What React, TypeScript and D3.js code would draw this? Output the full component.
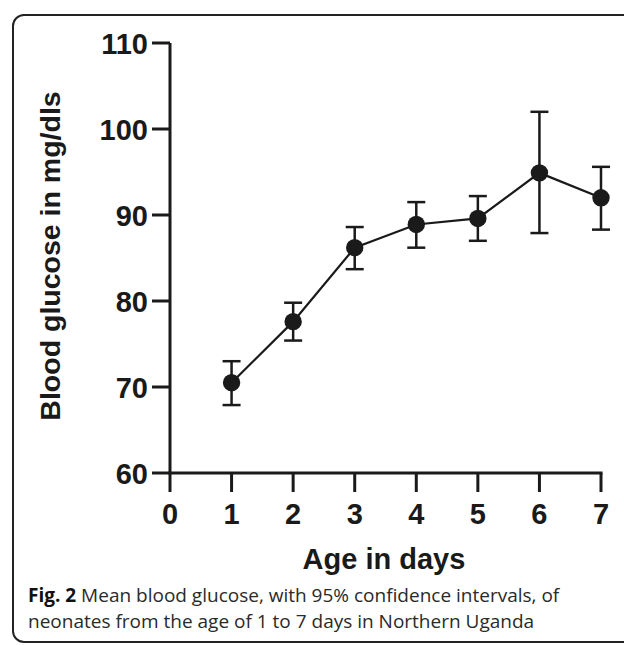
import React from "react";
import * as d3 from "d3";

// Mean blood glucose by day of age, with 95% CI
const days = [1, 2, 3, 4, 5, 6, 7];
const meanGlucose = [70.5, 77.6, 86.2, 88.9, 89.6, 94.9, 92.0];
const ciLow = [67.9, 75.4, 83.7, 86.2, 87.0, 87.9, 88.3];
const ciHigh = [73.0, 79.8, 88.6, 91.5, 92.2, 102.0, 95.6];
const xTicks = [0, 1, 2, 3, 4, 5, 6, 7];
const yTicks = [60, 70, 80, 90, 100, 110];

const W = 624;
const H = 645;
const margin = { left: 170, right: 23, top: 43, bottom: 172 };

const App = () => {
  const x = d3.scaleLinear().domain([0, 7]).range([margin.left, W - margin.right]);
  const y = d3.scaleLinear().domain([60, 110]).range([H - margin.bottom, margin.top]);

  const points = days.map((d, i) => ({
    day: d,
    mean: meanGlucose[i],
    lo: ciLow[i],
    hi: ciHigh[i],
  }));

  const line = d3
    .line<{ day: number; mean: number }>()
    .x((d) => x(d.day))
    .y((d) => y(d.mean));

  const font = "'Liberation Sans', Arial, sans-serif";
  const ink = "#1a1a1a";
  const cap = 9; // half width of error bar caps

  return (
    <svg
      width={W}
      height={H}
      style={{ position: "absolute", left: 0, top: 0, background: "#fff" }}
    >
      {/* panel frame */}
      <rect x={13} y={15} width={640} height={627} rx={11} fill="none" stroke="#222" strokeWidth={2} />

      {/* y axis */}
      <line x1={x(0)} x2={x(0)} y1={y(110)} y2={y(60)} stroke={ink} strokeWidth={3} />
      {yTicks.map((t) => (
        <g key={t}>
          <line x1={x(0) - 18} x2={x(0)} y1={y(t)} y2={y(t)} stroke={ink} strokeWidth={3} />
          <text
            x={x(0) - 22}
            y={y(t)}
            dy="0.37em"
            textAnchor="end"
            fontFamily={font}
            fontWeight="bold"
            fontSize={29}
            fill={ink}
          >
            {t}
          </text>
        </g>
      ))}

      {/* x axis */}
      <line x1={x(0) - 1.5} x2={x(7) + 1.5} y1={y(60)} y2={y(60)} stroke={ink} strokeWidth={3} />
      {xTicks.map((t) => (
        <g key={t}>
          <line x1={x(t)} x2={x(t)} y1={y(60)} y2={y(60) + 19} stroke={ink} strokeWidth={3} />
          <text
            x={x(t)}
            y={y(60) + 51}
            textAnchor="middle"
            fontFamily={font}
            fontWeight="bold"
            fontSize={29}
            fill={ink}
          >
            {t}
          </text>
        </g>
      ))}

      {/* axis titles */}
      <text
        x={384}
        y={569}
        textAnchor="middle"
        fontFamily={font}
        fontWeight="bold"
        fontSize={29}
        fill={ink}
      >
        Age in days
      </text>
      <text
        transform="translate(60,256) rotate(-90)"
        textAnchor="middle"
        fontFamily={font}
        fontWeight="bold"
        fontSize={28.5}
        fill={ink}
      >
        Blood glucose in mg/dls
      </text>

      {/* mean line */}
      <path d={line(points) || ""} fill="none" stroke={ink} strokeWidth={2.2} />

      {/* error bars */}
      {points.map((p) => (
        <g key={"e" + p.day} stroke={ink} strokeWidth={2.5}>
          <line x1={x(p.day)} x2={x(p.day)} y1={y(p.lo)} y2={y(p.hi)} />
          <line x1={x(p.day) - cap} x2={x(p.day) + cap} y1={y(p.lo)} y2={y(p.lo)} />
          <line x1={x(p.day) - cap} x2={x(p.day) + cap} y1={y(p.hi)} y2={y(p.hi)} />
        </g>
      ))}

      {/* markers */}
      {points.map((p) => (
        <circle key={"c" + p.day} cx={x(p.day)} cy={y(p.mean)} r={8.7} fill={ink} />
      ))}

      {/* caption */}
      <text x={28} y={602} fontFamily="'Open Sans', sans-serif" fontSize={19} fill="#2a2a2a">
        <tspan fontWeight="bold" fill="#111">Fig. 2</tspan>
        <tspan> Mean blood glucose, with 95% confidence intervals, of</tspan>
      </text>
      <text x={28} y={628} fontFamily="'Open Sans', sans-serif" fontSize={19} fill="#2a2a2a">
        neonates from the age of 1 to 7 days in Northern Uganda
      </text>
    </svg>
  );
};

export default App;
